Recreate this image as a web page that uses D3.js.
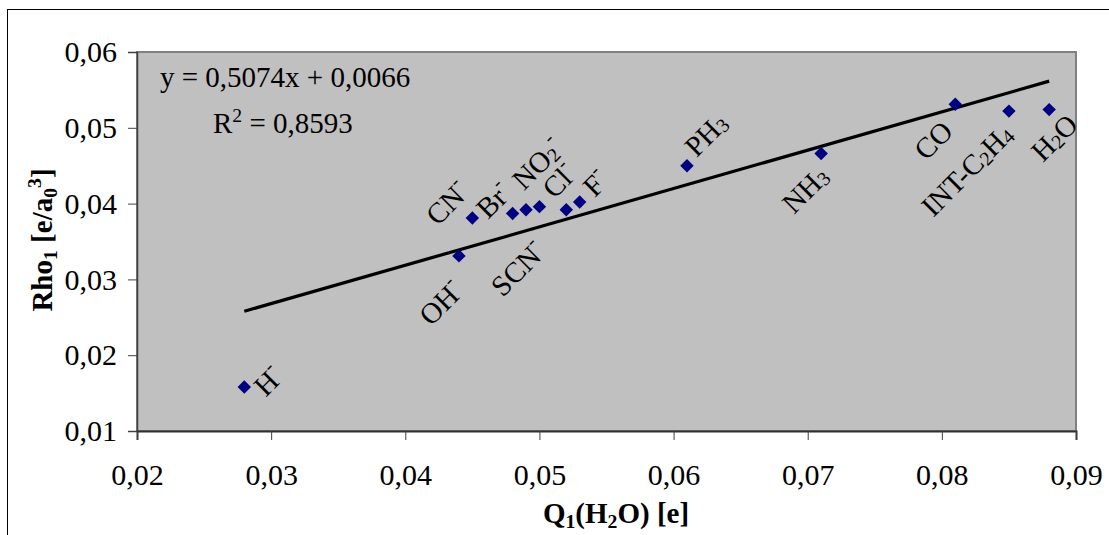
<!DOCTYPE html>
<html>
<head>
<meta charset="utf-8">
<script src="https://cdn.jsdelivr.net/npm/d3@7"></script>
<style>
  html, body { margin: 0; padding: 0; background: #ffffff; }
  svg { display: block; font-family: 'Liberation Serif', 'Times New Roman', serif; }
</style>
</head>
<body>
<div id="chart"></div>
<script>
// data
const names = ['H-', 'OH-', 'CN-', 'Br-', 'SCN-', 'NO2-', 'Cl-', 'F-', 'PH3', 'NH3', 'CO', 'INT-C2H4', 'H2O']
const q1 = [0.028, 0.044, 0.045, 0.048, 0.049, 0.050, 0.052, 0.053, 0.061, 0.071, 0.081, 0.085, 0.088]
const rho1 = [0.0158, 0.0331, 0.0381, 0.0387, 0.0392, 0.0396, 0.0392, 0.0402, 0.0450, 0.0466, 0.0531, 0.0522, 0.0524]
const xTicks = [0.02, 0.03, 0.04, 0.05, 0.06, 0.07, 0.08, 0.09]
const yTicks = [0.01, 0.02, 0.03, 0.04, 0.05, 0.06]
const equationText = 'y = 0,5074x + 0,0066'
const r2Text = ' = 0,8593'

// label placement (pixel offset of the label centre from its point)
const labelOffset = {
  'H-': [24, -6], 'OH-': [-18, 47], 'CN-': [-25, -15], 'Br-': [-19, -13],
  'SCN-': [-8, 59], 'NO2-': [-2, -43], 'Cl-': [-7, -29], 'F-': [16, -19],
  'PH3': [19, -31], 'NH3': [-16, 36], 'CO': [-22, 36], 'INT-C2H4': [-42, 59], 'H2O': [5, 28],
}

const W = 1109
const H = 535
const plot = { left: 137, right: 1076, top: 52, bottom: 431 }
const FONT = 29
const TICK_FONT = 30
const SMALL = 0.68

const svg = d3.select('#chart').append('svg')
  .attr('width', W)
  .attr('height', H)

// outer chart frame (runs off the right and bottom edge)
svg.append('rect')
  .attr('x', 7.5).attr('y', 9.5)
  .attr('width', W + 20).attr('height', H + 20)
  .attr('fill', '#ffffff')
  .attr('stroke', '#000000')
  .attr('stroke-width', 1)

const x = d3.scaleLinear().domain([0.02, 0.09]).range([plot.left, plot.right])
const y = d3.scaleLinear().domain([0.01, 0.06]).range([plot.bottom, plot.top])
const fmt = (d) => d3.format('.2f')(d).replace('.', ',')

svg.append('rect')
  .attr('x', plot.left).attr('y', plot.top)
  .attr('width', plot.right - plot.left).attr('height', plot.bottom - plot.top)
  .attr('fill', '#c0c0c0')
  .attr('stroke', '#808080')
  .attr('stroke-width', 2)

const yAxis = svg.append('g')
  .attr('transform', `translate(${plot.left},0)`)
  .call(d3.axisLeft(y).tickValues(yTicks).tickSize(9).tickPadding(11).tickFormat(fmt))
yAxis.select('.domain').attr('stroke', '#404040').attr('stroke-width', 1.5)
yAxis.selectAll('.tick line').attr('stroke', '#404040')
yAxis.selectAll('.tick text')
  .attr('font-family', 'Liberation Serif, serif')
  .attr('font-size', TICK_FONT)
  .attr('fill', '#000')

const xAxis = svg.append('g')
  .attr('transform', `translate(0,${plot.bottom})`)
  .call(d3.axisBottom(x).tickValues(xTicks).tickSize(9).tickPadding(0).tickFormat(fmt))
xAxis.select('.domain').attr('stroke', '#303030').attr('stroke-width', 2)
xAxis.selectAll('.tick line').attr('stroke', '#404040')
xAxis.selectAll('.tick text')
  .attr('font-family', 'Liberation Serif, serif')
  .attr('font-size', TICK_FONT)
  .attr('fill', '#000')
  .attr('dy', null)
  .attr('y', 54)

// linear trend through the points
const n = q1.length
const mx = d3.mean(q1)
const my = d3.mean(rho1)
const slope = d3.sum(q1, (v, i) => (v - mx) * (rho1[i] - my)) / d3.sum(q1, (v) => (v - mx) ** 2)
const intercept = my - slope * mx
const xExt = d3.extent(q1)
svg.append('path')
  .attr('d', d3.line()([xExt[0], xExt[1]].map((v) => [x(v), y(slope * v + intercept)])))
  .attr('stroke', '#000')
  .attr('stroke-width', 3.2)
  .attr('fill', 'none')

// markers
svg.append('g').selectAll('path')
  .data(d3.range(n))
  .join('path')
  .attr('d', d3.symbol(d3.symbolDiamond2, 115))
  .attr('transform', (i) => `translate(${x(q1[i])},${y(rho1[i])})`)
  .attr('fill', '#000080')

// split a name into normal / subscript / superscript runs
function parts(name) {
  const out = []
  let s = name
  let minus = false
  if (s.endsWith('-')) { minus = true; s = s.slice(0, -1) }
  for (const ch of s) {
    const kind = /[0-9]/.test(ch) ? 'sub' : 'normal'
    const last = out[out.length - 1]
    if (last && last.kind === kind) last.t += ch
    else out.push({ t: ch, kind })
  }
  if (minus) out.push({ t: '-', kind: 'sup' })
  return out
}

function addRuns(text, runs, size) {
  runs.forEach((p) => {
    const span = text.append('tspan').text(p.t)
    if (p.kind === 'sub') span.attr('baseline-shift', -Math.round(size * 0.16)).attr('font-size', size * SMALL)
    if (p.kind === 'sup') span.attr('baseline-shift', Math.round(size * 0.38)).attr('font-size', size * SMALL)
  })
}

const labels = svg.append('g')
names.forEach((name, i) => {
  const [dx, dy] = labelOffset[name]
  const t = labels.append('text')
    .attr('transform', `translate(${x(q1[i]) + dx},${y(rho1[i]) + dy}) rotate(-45)`)
    .attr('text-anchor', 'middle')
    .attr('dominant-baseline', 'central')
    .attr('font-size', FONT)
    .attr('fill', '#000')
  addRuns(t, parts(name), FONT)
})

// regression equation
svg.append('text')
  .attr('x', 160).attr('y', 87)
  .attr('font-size', FONT)
  .text(equationText)
const r2 = svg.append('text')
  .attr('x', 213).attr('y', 133)
  .attr('font-size', FONT)
addRuns(r2, [{ t: 'R', kind: 'normal' }, { t: '2', kind: 'sup' }, { t: r2Text, kind: 'normal' }], FONT)

// axis titles
const xt = svg.append('text')
  .attr('x', 616).attr('y', 523)
  .attr('text-anchor', 'middle')
  .attr('font-size', FONT)
  .attr('font-weight', 'bold')
addRuns(xt, [
  { t: 'Q', kind: 'normal' }, { t: '1', kind: 'sub' }, { t: '(H', kind: 'normal' },
  { t: '2', kind: 'sub' }, { t: 'O) [e]', kind: 'normal' },
], FONT)

const yt = svg.append('text')
  .attr('transform', 'translate(52,240) rotate(-90)')
  .attr('text-anchor', 'middle')
  .attr('font-size', FONT)
  .attr('font-weight', 'bold')
addRuns(yt, [
  { t: 'Rho', kind: 'normal' }, { t: '1', kind: 'sub' }, { t: ' [e/a', kind: 'normal' },
  { t: '0', kind: 'sub' }, { t: '3', kind: 'sup' }, { t: ']', kind: 'normal' },
], FONT)
</script>
</body>
</html>
